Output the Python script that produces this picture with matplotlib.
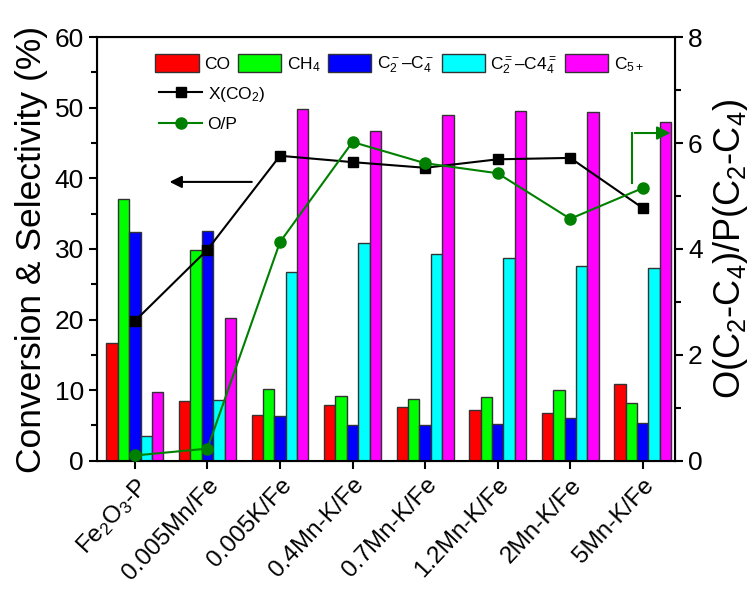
import numpy as np
import matplotlib.pyplot as plt
from matplotlib.ticker import MultipleLocator

plt.rcParams["font.family"] = ["Liberation Sans", "DejaVu Sans"]
plt.rcParams["mathtext.fontset"] = "custom"
plt.rcParams["mathtext.rm"] = "Liberation Sans"
plt.rcParams["mathtext.it"] = "Liberation Sans"
plt.rcParams["mathtext.default"] = "regular"

catalisadores = ["Fe$_2$O$_3$-P", "0.005Mn/Fe", "0.005K/Fe", "0.4Mn-K/Fe",
                 "0.7Mn-K/Fe", "1.2Mn-K/Fe", "2Mn-K/Fe", "5Mn-K/Fe"]

sel_co = [16.7, 8.5, 6.5, 7.9, 7.6, 7.2, 6.7, 10.9]
sel_ch4 = [37.1, 29.9, 10.2, 9.2, 8.7, 9.0, 10.0, 8.2]
sel_parafinas = [32.4, 32.5, 6.4, 5.1, 5.1, 5.2, 6.0, 5.3]
sel_olefinas = [3.5, 8.6, 26.7, 30.9, 29.3, 28.7, 27.6, 27.3]
sel_c5 = [9.8, 20.2, 49.8, 46.7, 49.0, 49.5, 49.4, 48.0]
conv_co2 = [19.8, 29.9, 43.2, 42.3, 41.5, 42.7, 42.9, 35.8]
razao_op = [0.10, 0.23, 4.13, 6.02, 5.62, 5.43, 4.57, 5.15]

series = [
    (sel_co, "#ff0000", "CO"),
    (sel_ch4, "#00ff00", "CH$_4$"),
    (sel_parafinas, "#0000ff", "C$_2^-$\u2013C$_4^-$"),
    (sel_olefinas, "#00ffff", "C$_2^=$\u2013C4$_4^=$"),
    (sel_c5, "#ff00ff", "C$_{5+}$"),
]

fig = plt.figure(figsize=(7.53, 5.90), dpi=100)
ax = fig.add_axes([0.129, 0.219, 0.767, 0.718])
ax2 = ax.twinx()

x = np.arange(len(catalisadores))
w = 0.157
barras = []
for i, (vals, cor, rot) in enumerate(series):
    b = ax.bar(x + (i - 2) * w, vals, w, color=cor, edgecolor="#333333",
               linewidth=1, label=rot, zorder=2)
    barras.append(b)

l1, = ax.plot(x, conv_co2, color="black", marker="s", markersize=7,
              linewidth=1.5, label="X(CO$_2$)", zorder=4)
l2, = ax2.plot(x, razao_op, color="#008000", marker="o", markersize=8,
               linewidth=1.5, label="O/P", zorder=4)

ax.set_xlim(-0.52, 7.44)
ax.set_ylim(0, 60)
ax2.set_ylim(0, 8)

ax.yaxis.set_major_locator(MultipleLocator(10))
ax.yaxis.set_minor_locator(MultipleLocator(5))
ax2.yaxis.set_major_locator(MultipleLocator(2))
ax2.yaxis.set_minor_locator(MultipleLocator(1))

ax.set_xticks(x)
ax.set_xticklabels(catalisadores, rotation=47, ha="right",
                   rotation_mode="anchor", fontsize=17.5)
ax.tick_params(axis="y", labelsize=19, width=1.5, length=6)
ax.tick_params(axis="y", which="minor", width=1.5, length=4)
ax.tick_params(axis="x", width=1.5, length=6)
ax2.tick_params(axis="y", labelsize=19, width=1.5, length=6)
ax2.tick_params(axis="y", which="minor", width=1.5, length=4)
for s in ax2.spines.values():
    s.set_linewidth(1.5)

ax.set_ylabel("Conversion & Selectivity (%)", fontsize=25.5)
ax.yaxis.set_label_coords(-0.085, 0.5)
ax2.set_ylabel("O(C$_2$-C$_4$)/P(C$_2$-C$_4$)", fontsize=26)
ax2.yaxis.set_label_coords(1.063, 0.5)

# setas indicando o eixo de cada curva
ax.annotate("", xy=(x[0] + 0.44, 39.5), xytext=(x[2] - 0.35, 39.5),
            arrowprops=dict(arrowstyle="-|>", color="black", lw=1.5,
                            mutation_scale=18), zorder=5)
x_seta = x[-1] - 0.15
ax2.plot([x_seta, x_seta], [razao_op[-1] + 0.1, 6.19], color="#008000",
         linewidth=1.5, zorder=5)
ax2.annotate("", xy=(7.42, 6.19), xytext=(x_seta, 6.19),
             arrowprops=dict(arrowstyle="-|>", color="#008000", lw=1.5,
                             mutation_scale=20), zorder=5)

leg1 = ax2.legend(handles=barras, loc="upper left", bbox_to_anchor=(0.08, 0.99),
                  ncol=5, frameon=False, fontsize=12.5, handlelength=2.5,
                  handleheight=1.3, columnspacing=0.45, handletextpad=0.3,
                  borderaxespad=0.3)
ax2.add_artist(leg1)
ax2.legend(handles=[l1, l2], loc="upper left", bbox_to_anchor=(0.08, 0.925),
           frameon=False, fontsize=12.5, handlelength=2.5, handletextpad=0.3,
           labelspacing=0.75)

fig.savefig("out.png", dpi=100)
